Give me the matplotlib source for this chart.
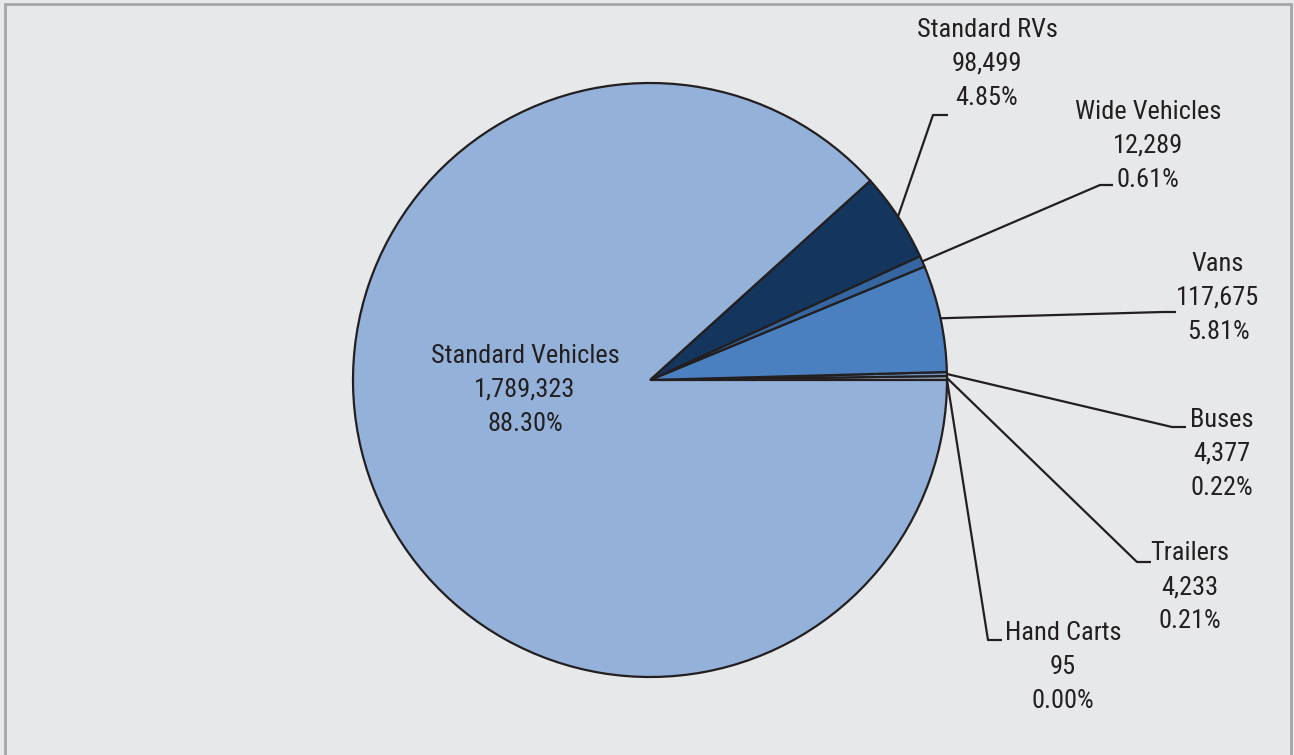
import numpy as np
import matplotlib
matplotlib.use('Agg')
import matplotlib.pyplot as plt
from matplotlib import font_manager
from matplotlib.patches import Rectangle

# data, in drawing order (counter-clockwise from 3 o'clock)
categories = ['Hand Carts', 'Trailers', 'Buses', 'Vans', 'Wide Vehicles', 'Standard RVs', 'Standard Vehicles']
counts = [95, 4233, 4377, 117675, 12289, 98499, 1789323]
shares = ['0.00%', '0.21%', '0.22%', '5.81%', '0.61%', '4.85%', '88.30%']
colors = ['#8fa8cc', '#a3b8d6', '#6f95c8', '#4a80c0', '#3566a1', '#14365e', '#94b2d9']

# label placement (pixel coords, y from top): elbow of leader, end of tick, text centre
label_pos = {
    'Standard RVs': ((933, 115), (948, 115), (987, 64)),
    'Wide Vehicles': ((1100, 185), (1113, 185), (1148, 146)),
    'Vans': ((1163, 312), (1176, 312), (1218, 298)),
    'Buses': ((1172, 427), (1186, 427), (1222, 454)),
    'Trailers': ((1137, 562), (1151, 562), (1190, 587)),
    'Hand Carts': ((988, 640), (1002, 640), (1063, 667)),
}

names = {f.name for f in font_manager.fontManager.ttflist}
fam = 'DejaVu Sans'
for f in ['Liberation Sans Narrow', 'Roboto Condensed', 'Open Sans Condensed', 'DejaVu Sans Condensed', 'Noto Sans']:
    if f in names:
        fam = f
        break
plt.rcParams['font.family'] = [fam, 'DejaVu Sans']

W, H = 1294, 755
bg = '#e7e8ea'
fig = plt.figure(figsize=(W / 100, H / 100), dpi=100, facecolor=bg)
ax = fig.add_axes([0, 0, 1, 1])

cx, cy, r = 650, 380, 297
# y axis is inverted, so draw clockwise to keep the counter-clockwise look on screen
wedges, _ = ax.pie(counts, colors=colors, startangle=0, counterclock=False, radius=r,
                   center=(cx, cy), frame=True,
                   wedgeprops=dict(edgecolor='#231f20', linewidth=1.6))
ax.set_xlim(0, W)
ax.set_ylim(H, 0)
ax.set_aspect('equal')
ax.axis('off')

txt_kw = dict(fontsize=19, color='#231f20', ha='center', va='center', linespacing=1.55)
for w, name, n, s in zip(wedges, categories, counts, shares):
    if name == 'Standard Vehicles':
        ax.text(525, 390, f'{name}\n{n:,}\n{s}', **txt_kw)
        continue
    ang = np.deg2rad((w.theta1 + w.theta2) / 2)
    x0 = cx + r * np.cos(ang)
    y0 = cy + r * np.sin(ang)
    elbow, end, tpos = label_pos[name]
    ax.plot([x0, elbow[0], end[0]], [y0, elbow[1], end[1]], color='#231f20', lw=1.6,
            solid_capstyle='butt', zorder=3)
    ax.text(tpos[0], tpos[1], f'{name}\n{n:,}\n{s}', **txt_kw)

# grey frame on left/top/right
fig.patches.append(Rectangle((5 / W, -0.01), (W - 8) / W, (H - 4) / H + 0.01, transform=fig.transFigure,
                             fill=False, edgecolor='#a6a6a8', linewidth=2))

fig.savefig('out.png', dpi=100, facecolor=bg)
